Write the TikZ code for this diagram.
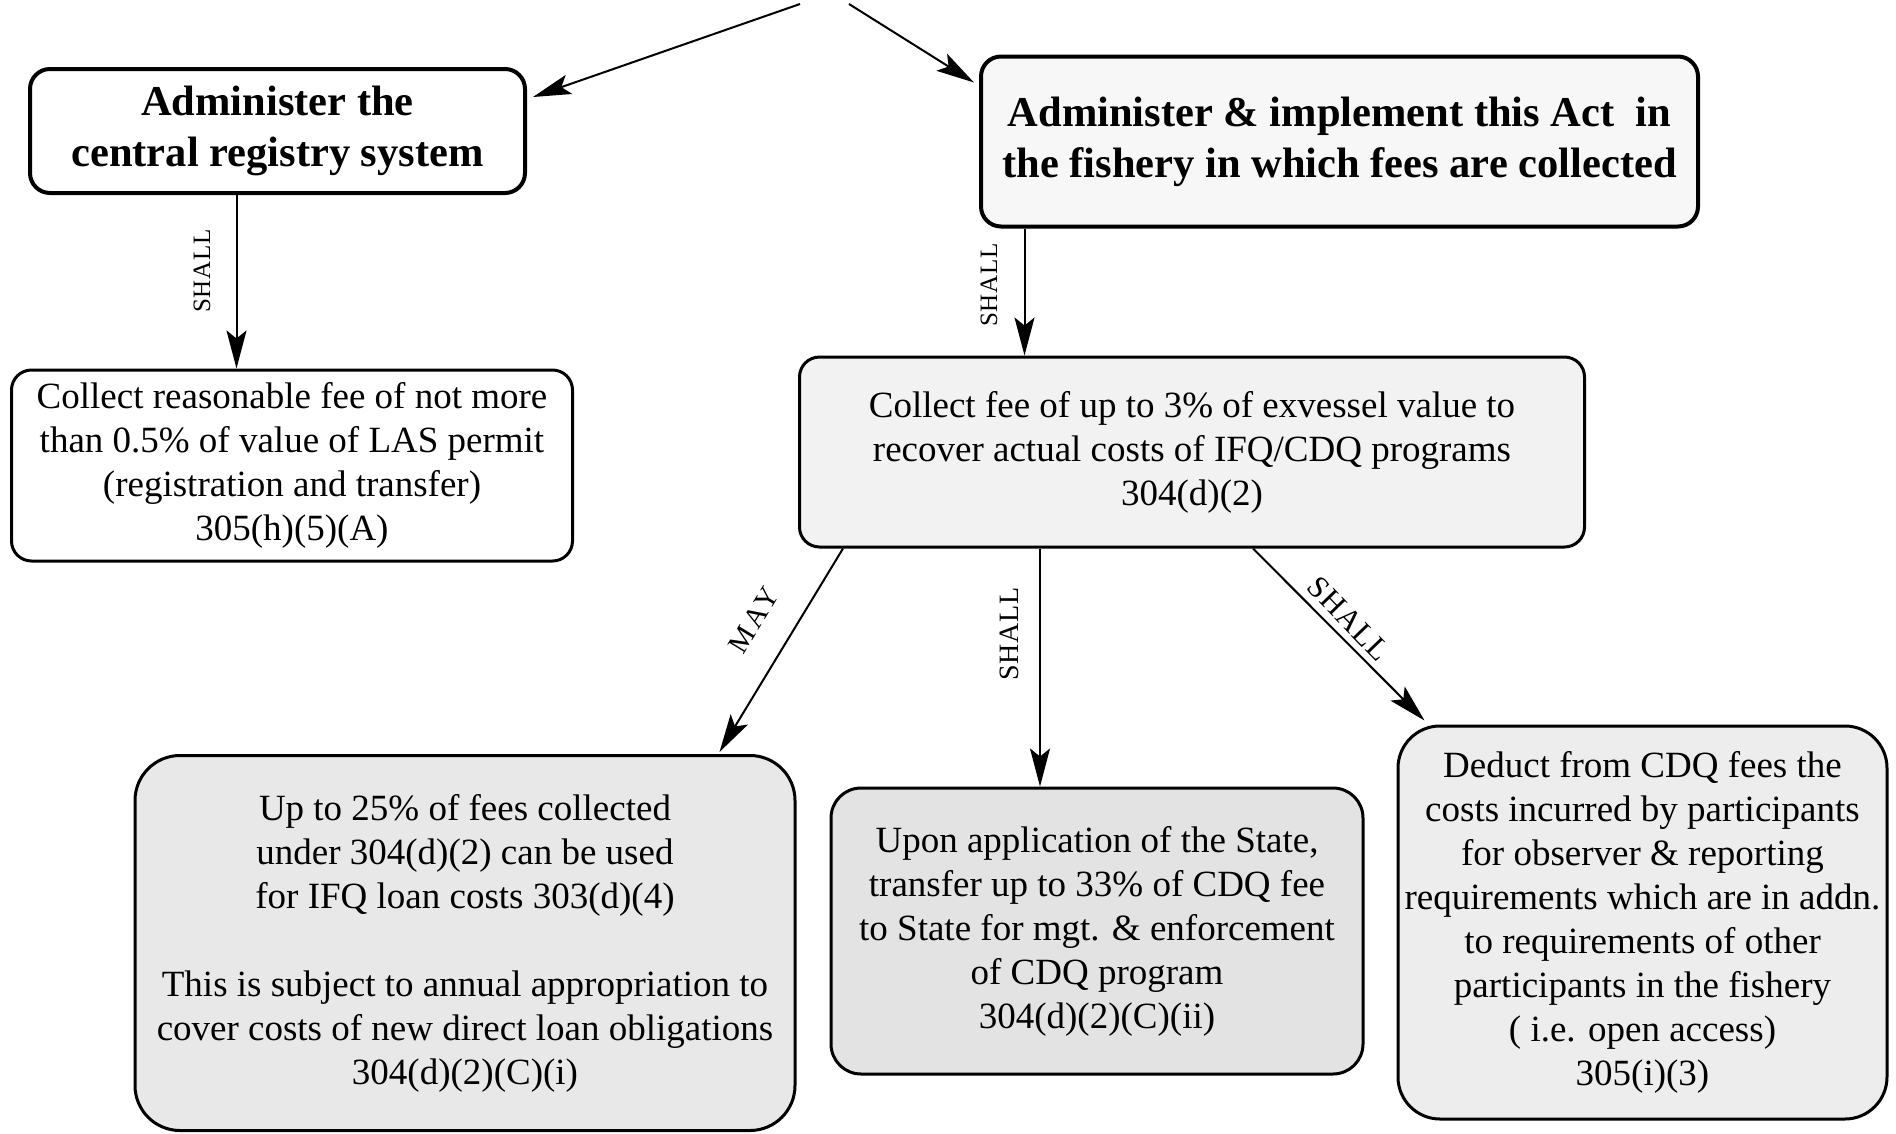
\documentclass[tikz,border=0pt]{standalone}
\usepackage{fontspec}
\setmainfont{Liberation Serif}
\usetikzlibrary{arrows.meta}
\definecolor{tintB}{gray}{0.97}
\definecolor{tintD}{gray}{0.95}
\definecolor{tintE}{gray}{0.91}
\definecolor{tintF}{gray}{0.89}
\definecolor{tintG}{gray}{0.93}
\begin{document}
\begin{tikzpicture}[x=1pt,y=-1pt,
  box/.style={draw, rounded corners=20pt, line width=3pt, align=center, inner sep=0pt,
    font=\fontsize{37}{44}\selectfont},
  headbox/.style={box, line width=4pt, font=\fontsize{42.5}{51}\selectfont\bfseries},
  arr/.style={line width=2pt, -{Stealth[length=38pt,width=20pt,inset=8pt]}},
  lbl/.style={inner sep=0pt, font=\fontsize{25}{25}\selectfont\addfontfeature{LetterSpace=3}},
  biglbl/.style={inner sep=0pt, font=\fontsize{28}{28}\selectfont\addfontfeature{LetterSpace=3}}
]
\useasboundingbox (0,0) rectangle (1896,1133);

% top-level duties
\node[headbox, minimum width=495pt, minimum height=124pt] (A) at (277.5,131)
  {Administer the\\central registry system};
\node[headbox, fill=tintB, minimum width=717pt, minimum height=170pt] (B) at (1339.5,141.5)
  {Administer \& implement this Act\ \ in\\the fishery in which fees are collected};

% fee collection
\node[box, minimum width=561pt, minimum height=191pt] (C) at (292,465.5)
  {Collect reasonable fee of not more\\than 0.5\% of value of LAS permit\\(registration and transfer)\\305(h)(5)(A)};
\node[box, fill=tintD, minimum width=785pt, minimum height=190pt] (D) at (1192,452)
  {Collect fee of up to 3\% of exvessel value to\\recover actual costs of IFQ/CDQ programs\\304(d)(2)};

% uses of the collected fees
\node[box, fill=tintE, rounded corners=45pt, minimum width=660pt, minimum height=375pt] (E) at (465,943)
  {Up to 25\% of fees collected\\under 304(d)(2) can be used\\for IFQ loan costs 303(d)(4)\\[44pt]This is subject to annual appropriation to\\cover costs of new direct loan obligations\\304(d)(2)(C)(i)};
\node[box, fill=tintF, rounded corners=30pt, minimum width=532pt, minimum height=286pt] (F) at (1097,931)
  {Upon application of the State,\\transfer up to 33\% of CDQ fee\\to State for mgt. \& enforcement\\of CDQ program\\304(d)(2)(C)(ii)};
\node[box, fill=tintG, rounded corners=42pt, minimum width=489pt, minimum height=393pt] (G) at (1642.5,922.5)
  {Deduct from CDQ fees the\\costs incurred by participants\\for observer \& reporting\\requirements which are in addn.\\to requirements of other\\participants in the fishery\\( i.e. open access)\\305(i)(3)};

% incoming connectors from above
\coordinate (s1) at (800,4);
\coordinate (s2) at (849,4);
\draw[arr] (s1) -- ([shift={(6,30)}]A.north east);
\draw[arr] (s2) -- ([shift={(-5,28)}]B.north west);

% connectors between boxes
\draw[arr] ([xshift=-41pt]A.south) -- ([xshift=-41pt]A.south |- C.north);
\draw[arr] ([xshift=-315pt]B.south) -- ([xshift=-315pt]B.south |- D.north);
\draw[arr] ([xshift=45pt]D.south west) -- ([shift={(-77,-2)}]E.north east);
\draw[arr] ([xshift=-152pt]D.south) -- ([xshift=-152pt]D.south |- F.north);
\draw[arr] ([xshift=61pt]D.south) -- ([shift={(28,-4)}]G.north west);

% connector labels
\node[lbl, rotate=90] (l1) at (202,271) {SHALL};
\node[lbl, rotate=90] (l2) at (989,285) {SHALL};
\node[biglbl, font=\fontsize{29}{29}\selectfont\addfontfeature{LetterSpace=10}, rotate=58.5] (l3) at (754,620) {MAY};
\node[biglbl, rotate=90] (l4) at (1009,634) {SHALL};
\node[biglbl, font=\fontsize{31}{31}\selectfont\addfontfeature{LetterSpace=3}, rotate=-46] (l5) at (1349,619) {SHALL};
\end{tikzpicture}
\end{document}
